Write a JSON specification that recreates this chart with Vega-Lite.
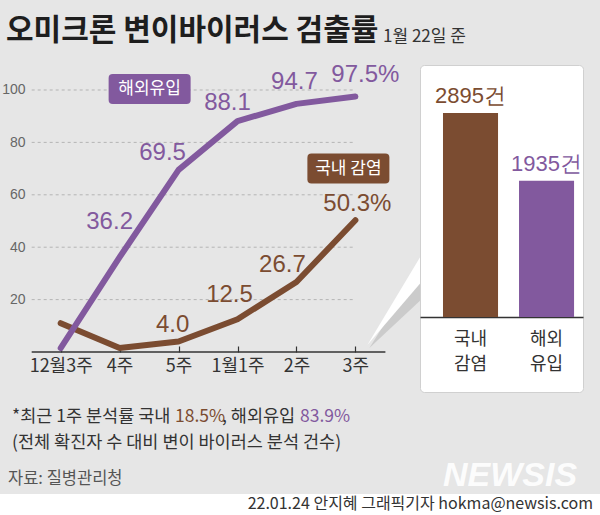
{
  "$schema": "https://vega.github.io/schema/vega-lite/v6.json",
  "background": "#e6e6e6",
  "padding": {"left": 0, "top": 15, "right": 0, "bottom": 0},
  "title": {
    "text": "오미크론 변이바이러스 검출률",
    "anchor": "start",
    "frame": "group",
    "dx": 6,
    "offset": -17.5,
    "font": "Noto Sans CJK KR",
    "fontSize": 30,
    "fontWeight": "bold",
    "color": "#1e1e1e"
  },
  "config": {
    "font": "Noto Sans CJK KR",
    "view": {"stroke": null}
  },
  "datasets": {
    "rate": [
      {"주차": "12월3주", "순서": 1, "구분": "국내 감염", "검출률": 11.0, "라벨": ""},
      {"주차": "4주", "순서": 2, "구분": "국내 감염", "검출률": 1.5, "라벨": ""},
      {"주차": "5주", "순서": 3, "구분": "국내 감염", "검출률": 4.0, "라벨": "4.0"},
      {"주차": "1월1주", "순서": 4, "구분": "국내 감염", "검출률": 12.5, "라벨": "12.5"},
      {"주차": "2주", "순서": 5, "구분": "국내 감염", "검출률": 26.7, "라벨": "26.7"},
      {"주차": "3주", "순서": 6, "구분": "국내 감염", "검출률": 50.3, "라벨": "50.3%"},
      {"주차": "12월3주", "순서": 1, "구분": "해외유입", "검출률": 1.5, "라벨": ""},
      {"주차": "4주", "순서": 2, "구분": "해외유입", "검출률": 36.2, "라벨": "36.2"},
      {"주차": "5주", "순서": 3, "구분": "해외유입", "검출률": 69.5, "라벨": "69.5"},
      {"주차": "1월1주", "순서": 4, "구분": "해외유입", "검출률": 88.1, "라벨": "88.1"},
      {"주차": "2주", "순서": 5, "구분": "해외유입", "검출률": 94.7, "라벨": "94.7"},
      {"주차": "3주", "순서": 6, "구분": "해외유입", "검출률": 97.5, "라벨": "97.5%"}
    ],
    "grid": [{"눈금": 20}, {"눈금": 40}, {"눈금": 60}, {"눈금": 80}, {"눈금": 100}],
    "count": [
      {"유형": "국내 감염", "구분": "국내 감염", "건수": 2895, "라벨": "2895건"},
      {"유형": "해외 유입", "구분": "해외유입", "건수": 1935, "라벨": "1935건"}
    ],
    "notes": [
      {"부분": "1a", "내용": "*최근 1주 분석률 국내"},
      {"부분": "1b", "구분": "국내 감염", "내용": "18.5%"},
      {"부분": "1c", "내용": ", 해외유입"},
      {"부분": "1d", "구분": "해외유입", "내용": "83.9%"},
      {"부분": "2", "내용": "(전체 확진자 수 대비 변이 바이러스 분석 건수)"},
      {"부분": "3", "내용": "자료: 질병관리청"},
      {"부분": "로고", "내용": "NEWSIS"}
    ],
    "credit": [
      {"부분": "기자", "내용": "22.01.24 안지혜 그래픽기자 hokma@newsis.com"}
    ]
  },
  "spacing": 0,
  "resolve": {"scale": {"x": "independent", "y": "independent"}},
  "vconcat": [
    {
      "spacing": 64,
      "bounds": "flush",
      "resolve": {"scale": {"x": "independent", "y": "independent"}},
      "hconcat": [
        {
          "width": 356,
          "height": 287,
          "title": {
            "text": "1월 22일 준",
            "anchor": "start",
            "frame": "group",
            "dx": 383,
            "dy": -16.5,
            "offset": 0,
            "fontSize": 17,
            "fontWeight": "normal",
            "color": "#333333"
          },
          "data": {"name": "rate"},
          "encoding": {
            "x": {
              "field": "주차",
              "type": "ordinal",
              "sort": ["12월3주", "4주", "5주", "1월1주", "2주", "3주"],
              "scale": {"type": "point", "padding": 0.52, "align": 0.99},
              "axis": {
                "title": null,
                "domain": false,
                "ticks": true,
                "tickSize": -6,
                "tickColor": "#333333",
                "tickWidth": 1.2,
                "labelAngle": 0,
                "labelFontSize": 18,
                "labelColor": "#333333",
                "labelPadding": 11
              }
            },
            "y": {
              "field": "검출률",
              "type": "quantitative",
              "stack": null,
              "scale": {"domain": [0, 109.54], "nice": false},
              "axis": {
                "title": null,
                "offset": -32,
                "values": [20, 40, 60, 80, 100],
                "domain": false,
                "ticks": false,
                "grid": false,
                "labelPadding": 7,
                "labelFontSize": 14,
                "labelFont": "Liberation Sans",
                "labelColor": "#666666"
              }
            },
            "color": {
              "field": "구분",
              "type": "nominal",
              "scale": {"domain": ["해외유입", "국내 감염"], "range": ["#82599e", "#7b4c31"]},
              "legend": null
            }
          },
          "layer": [
            {
              "mark": {"type": "area", "opacity": 1},
              "encoding": {
                "color": {"value": "#fdfdfd"},
                "detail": {"field": "구분", "type": "nominal"},
                "order": {"field": "순서", "type": "quantitative"}
              }
            },
            {
              "data": {"name": "grid"},
              "mark": {"type": "rule", "strokeWidth": 1, "strokeDash": [3, 3], "xOffset": -29},
              "encoding": {
                "x": {"datum": "12월3주", "type": "ordinal"},
                "x2": {"datum": "3주"},
                "y": {"field": "눈금", "type": "quantitative", "scale": {"domain": [0, 109.54], "nice": false}},
                "color": {"value": "#b4b4b4"}
              }
            },
            {
              "data": {"values": [{"기준": 0}]},
              "mark": {"type": "rule", "strokeWidth": 1.5, "xOffset": -29, "x2Offset": 30},
              "encoding": {
                "x": {"datum": "12월3주", "type": "ordinal"},
                "x2": {"datum": "3주"},
                "y": {"field": "기준", "type": "quantitative", "scale": {"domain": [0, 109.54], "nice": false}},
                "color": {"value": "#333333"}
              }
            },
            {
              "data": {"values": [{"기준": 0}]},
              "mark": {"type": "point", "filled": true, "opacity": 0.18, "size": 40000, "shape": "M0.14,-0.04 L0.74,-1.0 L0.74,-0.6 Z"},
              "encoding": {
                "x": {"datum": "3주", "type": "ordinal"},
                "y": {"field": "기준", "type": "quantitative", "scale": {"domain": [0, 109.54], "nice": false}},
                "color": {"value": "#555555"}
              }
            },
            {
              "data": {"values": [{"기준": 0}]},
              "mark": {"type": "point", "filled": true, "opacity": 1, "size": 40000, "shape": "M0.12,-0.07 L0.72,-1.07 L0.72,-0.77 Z"},
              "encoding": {
                "x": {"datum": "3주", "type": "ordinal"},
                "y": {"field": "기준", "type": "quantitative", "scale": {"domain": [0, 109.54], "nice": false}},
                "color": {"value": "#ffffff"}
              }
            },
            {
              "mark": {"type": "line", "strokeWidth": 6, "strokeCap": "round", "strokeJoin": "round"},
              "encoding": {"order": {"field": "순서", "type": "quantitative"}}
            },
            {
              "transform": [{"filter": "datum['구분'] == '해외유입' && datum['주차'] == '4주'"}],
              "mark": {"type": "text", "font": "Liberation Sans Narrow, Liberation Sans", "fontSize": 24, "baseline": "middle", "dx": -10, "dy": -35},
              "encoding": {"text": {"field": "라벨"}}
            },
            {
              "transform": [{"filter": "datum['구분'] == '해외유입' && datum['주차'] == '5주'"}],
              "mark": {"type": "text", "font": "Liberation Sans Narrow, Liberation Sans", "fontSize": 24, "baseline": "middle", "dx": -16, "dy": -17},
              "encoding": {"text": {"field": "라벨"}}
            },
            {
              "transform": [{"filter": "datum['구분'] == '해외유입' && datum['주차'] == '1월1주'"}],
              "mark": {"type": "text", "font": "Liberation Sans Narrow, Liberation Sans", "fontSize": 24, "baseline": "middle", "dx": -10, "dy": -18},
              "encoding": {"text": {"field": "라벨"}}
            },
            {
              "transform": [{"filter": "datum['구분'] == '해외유입' && datum['주차'] == '2주'"}],
              "mark": {"type": "text", "font": "Liberation Sans Narrow, Liberation Sans", "fontSize": 24, "baseline": "middle", "dx": -2, "dy": -22},
              "encoding": {"text": {"field": "라벨"}}
            },
            {
              "transform": [{"filter": "datum['구분'] == '해외유입' && datum['주차'] == '3주'"}],
              "mark": {"type": "text", "font": "Liberation Sans Narrow, Liberation Sans", "fontSize": 24, "baseline": "middle", "dx": 10, "dy": -22},
              "encoding": {"text": {"field": "라벨"}}
            },
            {
              "transform": [{"filter": "datum['구분'] == '국내 감염' && datum['주차'] == '5주'"}],
              "mark": {"type": "text", "font": "Liberation Sans Narrow, Liberation Sans", "fontSize": 24, "baseline": "middle", "dx": -6, "dy": -17},
              "encoding": {"text": {"field": "라벨"}}
            },
            {
              "transform": [{"filter": "datum['구분'] == '국내 감염' && datum['주차'] == '1월1주'"}],
              "mark": {"type": "text", "font": "Liberation Sans Narrow, Liberation Sans", "fontSize": 24, "baseline": "middle", "dx": -8, "dy": -24},
              "encoding": {"text": {"field": "라벨"}}
            },
            {
              "transform": [{"filter": "datum['구분'] == '국내 감염' && datum['주차'] == '2주'"}],
              "mark": {"type": "text", "font": "Liberation Sans Narrow, Liberation Sans", "fontSize": 24, "baseline": "middle", "dx": -14, "dy": -17},
              "encoding": {"text": {"field": "라벨"}}
            },
            {
              "transform": [{"filter": "datum['구분'] == '국내 감염' && datum['주차'] == '3주'"}],
              "mark": {"type": "text", "font": "Liberation Sans Narrow, Liberation Sans", "fontSize": 24, "baseline": "middle", "dx": 2, "dy": -16},
              "encoding": {"text": {"field": "라벨"}}
            },
            {
              "data": {"values": [{"구분": "해외유입", "위치": 100}]},
              "mark": {"type": "point", "filled": true, "opacity": 1, "size": 6724, "xOffset": 30, "yOffset": -1,
                "shape": "M-0.9,-0.366 L0.9,-0.366 Q1,-0.366 1,-0.266 L1,0.266 Q1,0.366 0.9,0.366 L-0.9,0.366 Q-1,0.366 -1,0.266 L-1,-0.266 Q-1,-0.366 -0.9,-0.366 Z"},
              "encoding": {
                "x": {"datum": "4주", "type": "ordinal"},
                "y": {"field": "위치", "type": "quantitative", "scale": {"domain": [0, 109.54], "nice": false}}
              }
            },
            {
              "data": {"values": [{"구분": "해외유입", "위치": 100}]},
              "mark": {"type": "text", "fontSize": 17, "baseline": "middle", "align": "center", "dx": 30, "dy": -1},
              "encoding": {
                "x": {"datum": "4주", "type": "ordinal"},
                "y": {"field": "위치", "type": "quantitative", "scale": {"domain": [0, 109.54], "nice": false}},
                "text": {"field": "구분"},
                "color": {"value": "#ffffff"}
              }
            },
            {
              "data": {"values": [{"구분": "국내 감염", "위치": 70}]},
              "mark": {"type": "point", "filled": true, "opacity": 1, "size": 6724, "xOffset": -7, "yOffset": 0,
                "shape": "M-0.9,-0.366 L0.9,-0.366 Q1,-0.366 1,-0.266 L1,0.266 Q1,0.366 0.9,0.366 L-0.9,0.366 Q-1,0.366 -1,0.266 L-1,-0.266 Q-1,-0.366 -0.9,-0.366 Z"},
              "encoding": {
                "x": {"datum": "3주", "type": "ordinal"},
                "y": {"field": "위치", "type": "quantitative", "scale": {"domain": [0, 109.54], "nice": false}}
              }
            },
            {
              "data": {"values": [{"구분": "국내 감염", "위치": 70}]},
              "mark": {"type": "text", "fontSize": 17, "baseline": "middle", "align": "center", "dx": -7, "dy": 0},
              "encoding": {
                "x": {"datum": "3주", "type": "ordinal"},
                "y": {"field": "위치", "type": "quantitative", "scale": {"domain": [0, 109.54], "nice": false}},
                "text": {"field": "구분"},
                "color": {"value": "#ffffff"}
              }
            }
          ]
        },
        {
          "width": 163,
          "height": 327,
          "view": {"fill": "#ffffff", "stroke": "#d0d0d0", "cornerRadius": 4},
          "data": {"name": "count"},
          "encoding": {
            "x": {
              "field": "유형",
              "type": "nominal",
              "sort": ["국내 감염", "해외 유입"],
              "scale": {"paddingInner": 0.276, "paddingOuter": 0.21, "align": 0.72},
              "axis": {
                "title": null,
                "orient": "bottom",
                "offset": -75,
                "domainColor": "#333333",
                "domainWidth": 1.5,
                "ticks": false,
                "labelAngle": 0,
                "labelExpr": "split(datum.label, ' ')",
                "labelFontSize": 18,
                "labelColor": "#333333",
                "labelPadding": 13,
                "labelLineHeight": 25
              }
            },
            "y": {
              "field": "건수",
              "type": "quantitative",
              "scale": {"domain": [-1064, 3576], "nice": false, "zero": false},
              "axis": null
            },
            "color": {
              "field": "구분",
              "type": "nominal",
              "scale": {"domain": ["해외유입", "국내 감염"], "range": ["#82599e", "#7b4c31"]},
              "legend": null
            }
          },
          "layer": [
            {"mark": {"type": "bar"}},
            {
              "mark": {"type": "text", "font": "Liberation Sans Narrow, Liberation Sans", "fontSize": 22, "baseline": "bottom", "dy": -5},
              "encoding": {"text": {"field": "라벨"}}
            }
          ]
        }
      ]
    },
    {
      "width": 600,
      "height": 101,
      "data": {"name": "notes"},
      "encoding": {
        "x": {"datum": 0, "type": "quantitative", "scale": {"domain": [0, 1]}, "axis": null},
        "y": {"datum": 1, "type": "quantitative", "scale": {"domain": [0, 1]}, "axis": null}
      },
      "layer": [
        {
          "transform": [{"filter": "datum['부분'] == '로고'"}],
          "mark": {"type": "text", "align": "center", "baseline": "bottom", "dx": 510, "dy": 100, "font": "Liberation Sans", "fontSize": 34, "fontWeight": "bold", "fontStyle": "italic", "color": "#ffffff", "opacity": 0.9},
          "encoding": {"text": {"field": "내용"}}
        },
        {
          "transform": [{"filter": "datum['부분'] == '1a'"}],
          "mark": {"type": "text", "align": "left", "baseline": "middle", "dx": 12, "dy": 24, "fontSize": 17.5, "color": "#333333"},
          "encoding": {"text": {"field": "내용"}}
        },
        {
          "transform": [{"filter": "datum['부분'] == '1b'"}],
          "mark": {"type": "text", "align": "left", "baseline": "middle", "dx": 175, "dy": 24, "fontSize": 17.5},
          "encoding": {
            "text": {"field": "내용"},
            "color": {"field": "구분", "type": "nominal", "scale": {"domain": ["해외유입", "국내 감염"], "range": ["#82599e", "#7b4c31"]}, "legend": null}
          }
        },
        {
          "transform": [{"filter": "datum['부분'] == '1c'"}],
          "mark": {"type": "text", "align": "left", "baseline": "middle", "dx": 222, "dy": 24, "fontSize": 17.5, "color": "#333333"},
          "encoding": {"text": {"field": "내용"}}
        },
        {
          "transform": [{"filter": "datum['부분'] == '1d'"}],
          "mark": {"type": "text", "align": "left", "baseline": "middle", "dx": 300, "dy": 24, "fontSize": 17.5},
          "encoding": {
            "text": {"field": "내용"},
            "color": {"field": "구분", "type": "nominal", "scale": {"domain": ["해외유입", "국내 감염"], "range": ["#82599e", "#7b4c31"]}, "legend": null}
          }
        },
        {
          "transform": [{"filter": "datum['부분'] == '2'"}],
          "mark": {"type": "text", "align": "left", "baseline": "middle", "dx": 12, "dy": 50, "fontSize": 17.5, "color": "#333333"},
          "encoding": {"text": {"field": "내용"}}
        },
        {
          "transform": [{"filter": "datum['부분'] == '3'"}],
          "mark": {"type": "text", "align": "left", "baseline": "middle", "dx": 8, "dy": 86, "fontSize": 16.5, "color": "#555555"},
          "encoding": {"text": {"field": "내용"}}
        }
      ]
    },
    {
      "width": 600,
      "height": 22,
      "view": {"fill": "#ffffff"},
      "data": {"name": "credit"},
      "encoding": {
        "x": {"datum": 1, "type": "quantitative", "scale": {"domain": [0, 1]}, "axis": null},
        "y": {"datum": 0.5, "type": "quantitative", "scale": {"domain": [0, 1]}, "axis": null}
      },
      "layer": [
        {
          "mark": {"type": "text", "align": "right", "baseline": "middle", "dx": -7, "dy": -1, "fontSize": 16, "color": "#333333"},
          "encoding": {"text": {"field": "내용"}}
        }
      ]
    }
  ]
}
